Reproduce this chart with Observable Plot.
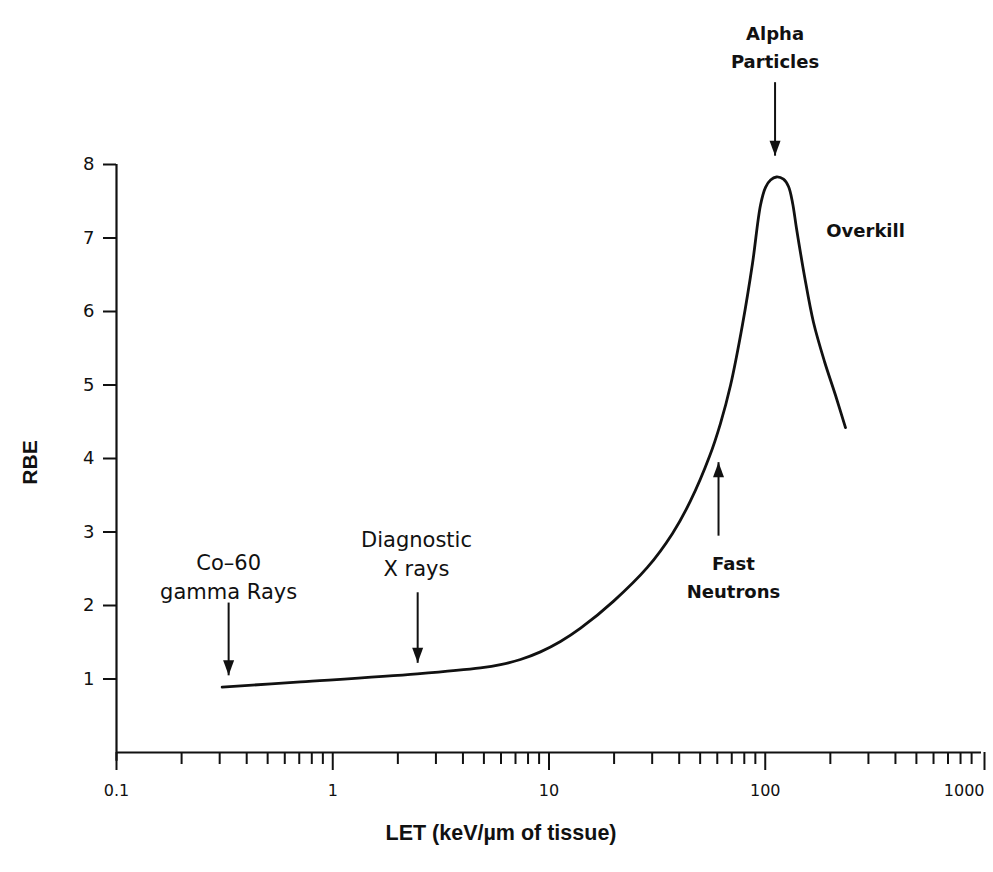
<!DOCTYPE html>
<html>
<head>
<meta charset="utf-8">
<script src="https://cdn.jsdelivr.net/npm/d3@7"></script>
<script src="https://cdn.jsdelivr.net/npm/@observablehq/plot@0.6"></script>
<style>
  html, body { margin: 0; padding: 0; background: #fff; }
</style>
</head>
<body>
<div id="chart"></div>
<script>
// Curve: LET (keV/µm) vs RBE
const letValues = [0.308, 0.71, 2.46, 4.82, 5.97, 7.38, 9.13, 11.3, 14.0, 19.9, 28.5, 37.25, 45.1, 55.2, 62.1, 69.1, 78.5, 87.3, 95.1, 100.3, 105.8, 112.7, 121.4, 128.1, 133.7, 139.5, 151.9, 167.2, 187.9, 211.3, 235];
const rbeValues = [0.89, 0.96, 1.07, 1.151, 1.195, 1.265, 1.369, 1.51, 1.691, 2.06, 2.518, 2.981, 3.422, 4.026, 4.479, 4.996, 5.823, 6.653, 7.45, 7.69, 7.79, 7.83, 7.80, 7.70, 7.48, 7.13, 6.48, 5.85, 5.32, 4.86, 4.42];

// Axis ticks
const majorTicks = [0.1, 1, 10, 100, 1000];
const majorTickLabels = ["0.1", "1", "10", "100", "1000"];
const minorTicks = [0.2,0.3,0.4,0.5,0.6,0.7,0.8,0.9, 2,3,4,5,6,7,8,9, 20,30,40,50,60,70,80,90, 200,300,400,500,600,700,800,900];
const yTicks = [1, 2, 3, 4, 5, 6, 7, 8];

// Annotations
const noteText = ["Alpha\nParticles", "Overkill", "Fast\nNeutrons", "Diagnostic\nX rays", "Co–60\ngamma Rays"];
const noteLET  = [111, 291, 71.3, 2.44, 0.33];
const noteRBE  = [9.63, 7.13, 2.41, 2.73, 2.41];
const noteBold = [true, true, true, false, false];

// Arrows
const arrowLET  = [111, 60.8, 2.47, 0.33];
const arrowFrom = [9.12, 2.95, 2.18, 2.04];
const arrowTo   = [8.12, 3.95, 1.22, 1.05];

const curve = letValues.map((x, i) => ({x, y: rbeValues[i]}));
const notes = noteText.map((t, i) => ({t, x: noteLET[i], y: noteRBE[i], bold: noteBold[i]}));
const arrows = arrowLET.map((x, i) => ({x, y1: arrowFrom[i], y2: arrowTo[i], down: arrowTo[i] < arrowFrom[i]}));

const headDown = {draw(ctx) { ctx.moveTo(0, 0); ctx.lineTo(-5.5, -15); ctx.lineTo(5.5, -15); ctx.closePath(); }};
const headUp = {draw(ctx) { ctx.moveTo(0, 0); ctx.lineTo(-5.5, 15); ctx.lineTo(5.5, 15); ctx.closePath(); }};

const fmtX = d => majorTickLabels[majorTicks.indexOf(d)];

const chart = Plot.plot({
  width: 993,
  height: 872,
  marginLeft: 116,
  marginRight: 12,
  marginTop: 164,
  marginBottom: 120,
  style: {fontFamily: "DejaVu Sans", background: "#fff", color: "#111"},
  x: {type: "log", domain: [0.1, 1000]},
  y: {domain: [0, 8]},
  marks: [
    Plot.axisX(minorTicks, {tickSize: 12, tickFormat: () => "", strokeWidth: 2, label: null}),
    Plot.axisX(majorTicks.slice(0, 4), {tickSize: 18, tickPadding: 14, strokeWidth: 2, fontSize: 16, label: null, tickFormat: fmtX}),
    Plot.axisX(majorTicks.slice(4), {tickSize: 18, tickPadding: 14, strokeWidth: 2, fontSize: 16, label: null, tickFormat: fmtX, textAnchor: "end", dx: 3}),
    Plot.axisY(yTicks, {tickSize: 13, tickPadding: 9, strokeWidth: 2, fontSize: 18, label: null, tickFormat: d => String(d)}),
    Plot.ruleY([0], {x1: 0.1, x2: 1000, strokeWidth: 2.2, stroke: "#111"}),
    Plot.ruleX([0.1], {y1: -0.12, y2: 8, strokeWidth: 2.2, stroke: "#111"}),
    Plot.line(curve, {x: "x", y: "y", curve: "catmull-rom", strokeWidth: 2.8, stroke: "#111"}),
    Plot.link(arrows, {x1: "x", x2: "x", y1: "y1", y2: "y2", strokeWidth: 2, stroke: "#111"}),
    Plot.dot(arrows.filter(d => d.down), {x: "x", y: "y2", symbol: headDown, fill: "#111", stroke: null}),
    Plot.dot(arrows.filter(d => !d.down), {x: "x", y: "y2", symbol: headUp, fill: "#111", stroke: null}),
    Plot.text(notes.filter(d => d.bold), {x: "x", y: "y", text: "t", fontSize: 18, fontWeight: "bold", lineHeight: 1.55, fill: "#111"}),
    Plot.text(notes.filter(d => !d.bold), {x: "x", y: "y", text: "t", fontSize: 21, lineHeight: 1.4, fill: "#111"}),
    Plot.text(["LET (keV/µm of tissue)"], {frameAnchor: "bottom", lineAnchor: "middle", textAnchor: "middle", dy: 81, dx: -48, fontSize: 21.5, fontWeight: "bold", fontFamily: "Liberation Sans", fill: "#111"}),
    Plot.text(["RBE"], {frameAnchor: "left", textAnchor: "middle", lineAnchor: "middle", dx: -86, dy: 4, rotate: -90, fontSize: 21, fontWeight: "bold", fontFamily: "Liberation Sans", fill: "#111"})
  ]
});
document.getElementById("chart").appendChild(chart);
</script>
</body>
</html>
